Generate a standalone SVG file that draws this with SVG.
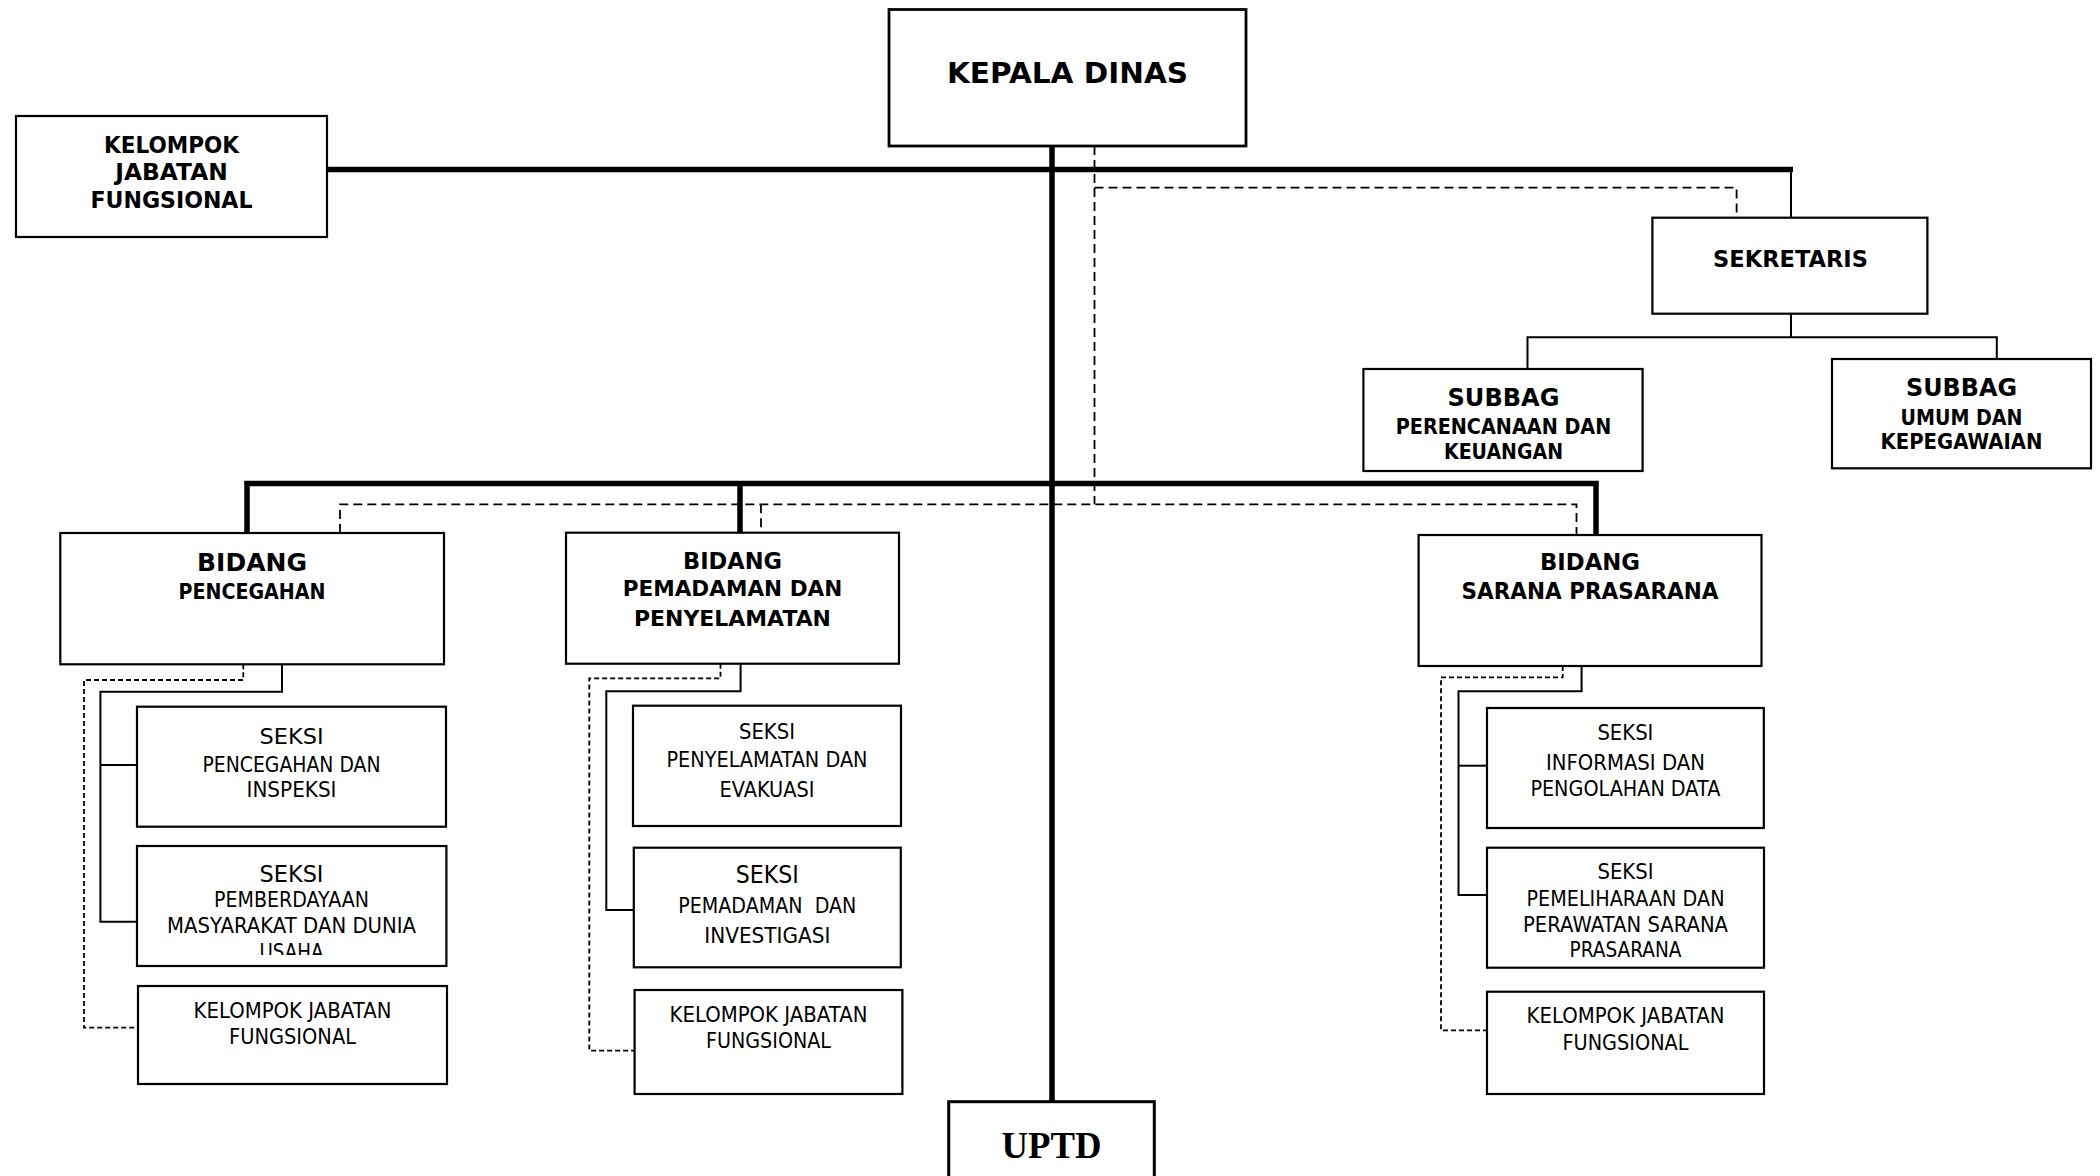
<svg xmlns="http://www.w3.org/2000/svg" width="2100" height="1176" viewBox="0 0 2100 1176">
<style>
.box{fill:#fff;stroke:#000;stroke-width:2.2}
.thk{fill:none;stroke:#000;stroke-width:5.5;stroke-linejoin:miter}
.thin{fill:none;stroke:#000;stroke-width:2}
.dash{fill:none;stroke:#000;stroke-width:1.8;stroke-dasharray:9 5}
.dash2{fill:none;stroke:#000;stroke-width:1.8;stroke-dasharray:5 3}
text{font-family:"DejaVu Sans","Liberation Sans",sans-serif;text-anchor:middle;fill:#000}
.b{font-weight:bold}
.r{font-size:20.5px}
.uptd{font-family:"Liberation Serif","DejaVu Serif",serif;font-weight:bold;font-size:37px}
</style>
<defs>
<clipPath id="clipUsaha"><rect x="137" y="846" width="310" height="109"/></clipPath>
</defs>
<rect width="2100" height="1176" fill="#fff"/>

<g id="connectors">
<path class="thk" d="M327,169.5 H1793"/>
<path class="thk" d="M1052,146 V1102"/>
<path class="thk" d="M247,533 V483.5 H1596 V535"/>
<path class="thk" d="M740,483.5 V533"/>
<path class="thin" d="M1791,169.5 V217.7"/>
<path class="thin" d="M1791,313.7 V337.3"/>
<path class="thin" d="M1527.5,369 V337.3 H1996.8 V359"/>
<path class="thin" d="M282,664.3 V691.7 H100.4 V921.7 H137"/>
<path class="thin" d="M100.4,765 H137"/>
<path class="thin" d="M740.6,663.7 V691.3 H606.3 V910 H633.8"/>
<path class="thin" d="M1581.6,666 V691.3 H1458.5 V895 H1487"/>
<path class="thin" d="M1458.5,765.7 H1487"/>
<path class="dash" d="M1094.5,146 V504.3"/>
<path class="dash" d="M1094.5,187.7 H1736.6 V217.7"/>
<path class="dash" d="M340,533 V504.3 H1576.5 V535"/>
<path class="dash" d="M761,504.3 V532.7"/>
<path class="dash2" d="M243.3,664.3 V680 H84 V1027.7 H138"/>
<path class="dash2" d="M720.5,663.7 V678.3 H589.3 V1050.7 H634.6"/>
<path class="dash2" d="M1562.7,666 V677.3 H1441 V1030.3 H1487"/>
</g>

<g id="kepala-dinas">
<rect class="box" x="889" y="9.5" width="357" height="136.5" style="stroke-width:2.8"/>
<text class="b" x="1067.5" y="83.3" font-size="27.5" textLength="241" lengthAdjust="spacingAndGlyphs">KEPALA DINAS</text>
</g>

<g id="kelompok-jabatan-fungsional">
<rect class="box" x="16" y="116" width="311" height="121"/>
<text class="b" x="171.5" y="153" font-size="22.5" textLength="135" lengthAdjust="spacingAndGlyphs">KELOMPOK</text>
<text class="b" x="171.5" y="180" font-size="22.5" textLength="112.5" lengthAdjust="spacingAndGlyphs">JABATAN</text>
<text class="b" x="171.5" y="207.5" font-size="22.5" textLength="162" lengthAdjust="spacingAndGlyphs">FUNGSIONAL</text>
</g>

<g id="sekretaris">
<rect class="box" x="1652.4" y="217.7" width="275" height="96"/>
<text class="b" x="1790.5" y="266.5" font-size="23" textLength="155" lengthAdjust="spacingAndGlyphs">SEKRETARIS</text>
</g>

<g id="subbag-perencanaan">
<rect class="box" x="1363.4" y="369" width="279.2" height="102"/>
<text class="b" x="1503.5" y="406" font-size="24" textLength="112" lengthAdjust="spacingAndGlyphs">SUBBAG</text>
<text class="b" x="1503.5" y="433.5" font-size="20.5" textLength="215.6" lengthAdjust="spacingAndGlyphs">PERENCANAAN DAN</text>
<text class="b" x="1503.5" y="459" font-size="20.5" textLength="119" lengthAdjust="spacingAndGlyphs">KEUANGAN</text>
</g>

<g id="subbag-umum">
<rect class="box" x="1832" y="359" width="259" height="109.3"/>
<text class="b" x="1961.5" y="396" font-size="24" textLength="111" lengthAdjust="spacingAndGlyphs">SUBBAG</text>
<text class="b" x="1961.5" y="424.5" font-size="20.5" textLength="122" lengthAdjust="spacingAndGlyphs">UMUM DAN</text>
<text class="b" x="1961.5" y="448.5" font-size="20.5" textLength="162" lengthAdjust="spacingAndGlyphs">KEPEGAWAIAN</text>
</g>

<g id="bidang-pencegahan">
<rect class="box" x="60.3" y="533" width="383.7" height="131.3"/>
<text class="b" x="252" y="570.5" font-size="24.7" textLength="110" lengthAdjust="spacingAndGlyphs">BIDANG</text>
<text class="b" x="252" y="598.5" font-size="21.5" textLength="147" lengthAdjust="spacingAndGlyphs">PENCEGAHAN</text>
</g>

<g id="bidang-pemadaman">
<rect class="box" x="566" y="532.7" width="333" height="131"/>
<text class="b" x="732.5" y="568.5" font-size="23" textLength="99" lengthAdjust="spacingAndGlyphs">BIDANG</text>
<text class="b" x="732.5" y="596" font-size="22" textLength="219.6" lengthAdjust="spacingAndGlyphs">PEMADAMAN DAN</text>
<text class="b" x="732.5" y="625.5" font-size="22" textLength="197" lengthAdjust="spacingAndGlyphs">PENYELAMATAN</text>
</g>

<g id="bidang-sarana">
<rect class="box" x="1418.6" y="535" width="342.9" height="131"/>
<text class="b" x="1590" y="570" font-size="23" textLength="100" lengthAdjust="spacingAndGlyphs">BIDANG</text>
<text class="b" x="1590" y="599" font-size="23" textLength="257" lengthAdjust="spacingAndGlyphs">SARANA PRASARANA</text>
</g>

<g id="seksi-pencegahan">
<rect class="box" x="137" y="706.7" width="309" height="120"/>
<text x="291.5" y="744" font-size="22" textLength="64" lengthAdjust="spacingAndGlyphs">SEKSI</text>
<text class="r" x="291.5" y="771.5" textLength="178" lengthAdjust="spacingAndGlyphs">PENCEGAHAN DAN</text>
<text class="r" x="291.5" y="797" textLength="90" lengthAdjust="spacingAndGlyphs">INSPEKSI</text>
</g>

<g id="seksi-pemberdayaan">
<rect class="box" x="137" y="846" width="309.4" height="120"/>
<text x="291.5" y="881.5" font-size="23" textLength="64" lengthAdjust="spacingAndGlyphs">SEKSI</text>
<text class="r" x="291.5" y="906.5" textLength="155" lengthAdjust="spacingAndGlyphs">PEMBERDAYAAN</text>
<text class="r" x="291.5" y="932.5" textLength="249" lengthAdjust="spacingAndGlyphs">MASYARAKAT DAN DUNIA</text>
<text class="r" x="291.5" y="958.5" textLength="64" lengthAdjust="spacingAndGlyphs" clip-path="url(#clipUsaha)">USAHA</text>
</g>

<g id="kelompok-pencegahan">
<rect class="box" x="138" y="986" width="309" height="98"/>
<text class="r" x="292.5" y="1018" textLength="198" lengthAdjust="spacingAndGlyphs">KELOMPOK JABATAN</text>
<text class="r" x="292.5" y="1044" textLength="127" lengthAdjust="spacingAndGlyphs">FUNGSIONAL</text>
</g>

<g id="seksi-penyelamatan">
<rect class="box" x="633" y="705.7" width="268" height="120.3"/>
<text class="r" x="767" y="738.5" textLength="56" lengthAdjust="spacingAndGlyphs">SEKSI</text>
<text class="r" x="767" y="767" textLength="201" lengthAdjust="spacingAndGlyphs">PENYELAMATAN DAN</text>
<text class="r" x="767" y="797" textLength="95" lengthAdjust="spacingAndGlyphs">EVAKUASI</text>
</g>

<g id="seksi-pemadaman">
<rect class="box" x="633.8" y="847.7" width="267" height="119.6"/>
<text x="767.3" y="882.5" font-size="24" textLength="63" lengthAdjust="spacingAndGlyphs">SEKSI</text>
<text class="r" x="767.3" y="913" textLength="178" lengthAdjust="spacingAndGlyphs" xml:space="preserve">PEMADAMAN  DAN</text>
<text class="r" x="767.3" y="942.5" textLength="126" lengthAdjust="spacingAndGlyphs">INVESTIGASI</text>
</g>

<g id="kelompok-pemadaman">
<rect class="box" x="634.6" y="990" width="267.8" height="104"/>
<text class="r" x="768.5" y="1022" textLength="198" lengthAdjust="spacingAndGlyphs">KELOMPOK JABATAN</text>
<text class="r" x="768.5" y="1047.5" textLength="125" lengthAdjust="spacingAndGlyphs">FUNGSIONAL</text>
</g>

<g id="seksi-informasi">
<rect class="box" x="1487" y="708" width="276.8" height="120"/>
<text class="r" x="1625.4" y="740" textLength="56" lengthAdjust="spacingAndGlyphs">SEKSI</text>
<text class="r" x="1625.4" y="770" textLength="159" lengthAdjust="spacingAndGlyphs">INFORMASI DAN</text>
<text class="r" x="1625.4" y="796" textLength="190" lengthAdjust="spacingAndGlyphs">PENGOLAHAN DATA</text>
</g>

<g id="seksi-pemeliharaan">
<rect class="box" x="1487" y="847.7" width="277" height="120"/>
<text class="r" x="1625.5" y="879.3" textLength="56" lengthAdjust="spacingAndGlyphs">SEKSI</text>
<text class="r" x="1625.5" y="906" textLength="198" lengthAdjust="spacingAndGlyphs">PEMELIHARAAN DAN</text>
<text class="r" x="1625.5" y="931.5" textLength="205" lengthAdjust="spacingAndGlyphs">PERAWATAN SARANA</text>
<text class="r" x="1625.5" y="957" textLength="112" lengthAdjust="spacingAndGlyphs">PRASARANA</text>
</g>

<g id="kelompok-sarana">
<rect class="box" x="1487" y="991.7" width="277" height="102.3"/>
<text class="r" x="1625.5" y="1023" textLength="198" lengthAdjust="spacingAndGlyphs">KELOMPOK JABATAN</text>
<text class="r" x="1625.5" y="1050" textLength="126" lengthAdjust="spacingAndGlyphs">FUNGSIONAL</text>
</g>

<g id="uptd">
<rect class="box" x="948.7" y="1101.7" width="205.6" height="90" style="stroke-width:3"/>
<text class="uptd" x="1051.5" y="1158.3" textLength="100" lengthAdjust="spacingAndGlyphs">UPTD</text>
</g>
</svg>
